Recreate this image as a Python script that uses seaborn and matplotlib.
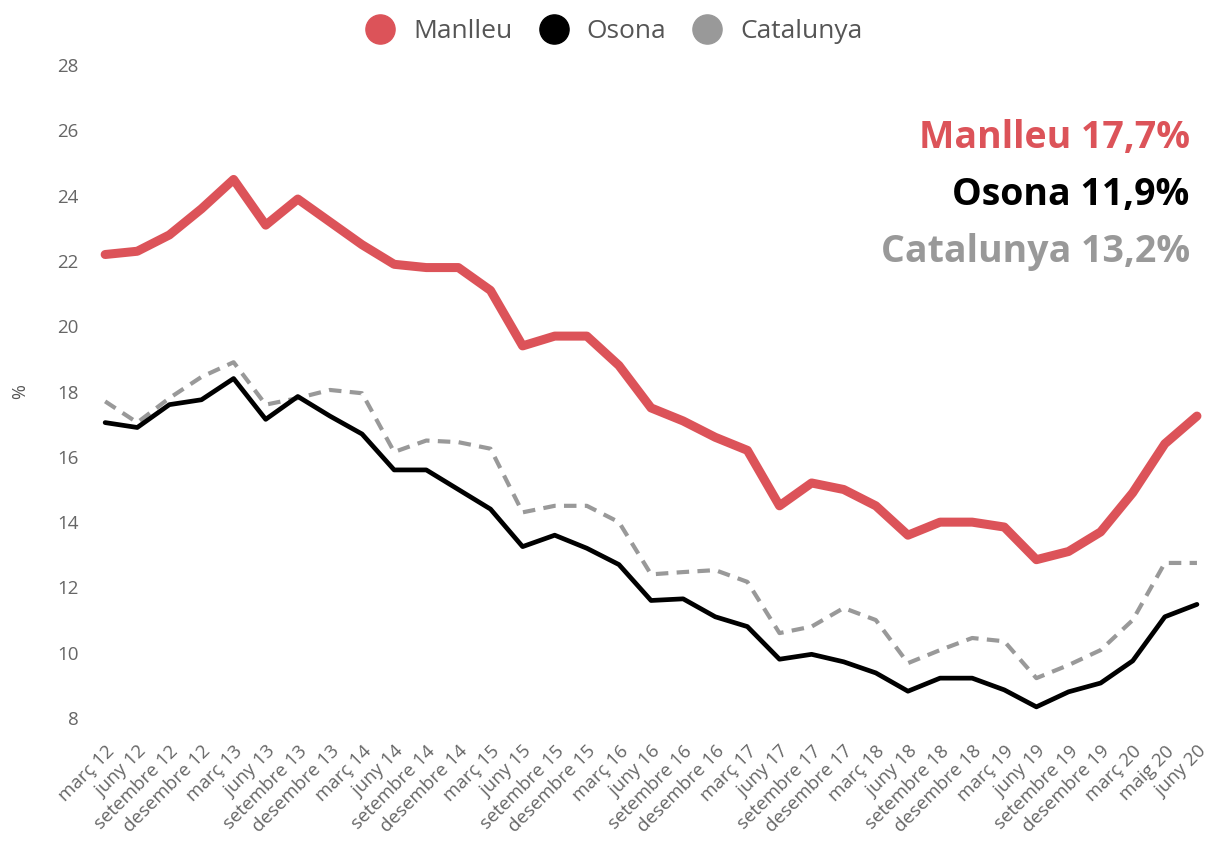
import matplotlib
matplotlib.use('Agg')
import matplotlib.pyplot as plt
from matplotlib.lines import Line2D
import seaborn as sns

periods = ['març 12', 'juny 12', 'setembre 12', 'desembre 12',
           'març 13', 'juny 13', 'setembre 13', 'desembre 13',
           'març 14', 'juny 14', 'setembre 14', 'desembre 14',
           'març 15', 'juny 15', 'setembre 15', 'desembre 15',
           'març 16', 'juny 16', 'setembre 16', 'desembre 16',
           'març 17', 'juny 17', 'setembre 17', 'desembre 17',
           'març 18', 'juny 18', 'setembre 18', 'desembre 18',
           'març 19', 'juny 19', 'setembre 19', 'desembre 19',
           'març 20', 'maig 20', 'juny 20']

manlleu = [22.2, 22.3, 22.8, 23.6, 24.5, 23.1, 23.9, 23.2, 22.5, 21.9,
           21.8, 21.8, 21.1, 19.4, 19.7, 19.7, 18.8, 17.5, 17.1, 16.6,
           16.2, 14.5, 15.2, 15.0, 14.5, 13.6, 14.0, 14.0, 13.85, 12.85,
           13.1, 13.7, 14.9, 16.4, 17.25]
osona = [17.05, 16.9, 17.6, 17.75, 18.4, 17.15, 17.85, 17.25, 16.7, 15.6,
         15.6, 15.0, 14.4, 13.25, 13.6, 13.2, 12.7, 11.6, 11.65, 11.1,
         10.8, 9.8, 9.95, 9.72, 9.38, 8.82, 9.22, 9.22, 8.86, 8.34,
         8.8, 9.07, 9.75, 11.1, 11.48]
catalunya = [17.7, 17.05, 17.8, 18.45, 18.9, 17.6, 17.8, 18.05, 17.95, 16.15,
             16.5, 16.45, 16.25, 14.3, 14.5, 14.5, 14.0, 12.4, 12.47, 12.53,
             12.17, 10.6, 10.8, 11.37, 11.0, 9.68, 10.08, 10.45, 10.35, 9.22,
             9.62, 10.08, 11.0, 12.75, 12.75]

series = ['Manlleu', 'Osona', 'Catalunya']
last_labels = ['Manlleu 17,7%', 'Osona 11,9%', 'Catalunya 13,2%']
colors = {'Manlleu': '#DC5359', 'Osona': '#000000', 'Catalunya': '#999999'}

sns.set_style('white')
plt.rcParams['font.family'] = ['Open Sans', 'DejaVu Sans']

fig = plt.figure(figsize=(12.09, 8.55), dpi=100)
ax = fig.add_axes([0.079, 0.145, 0.919, 0.794])

idx = list(range(len(periods)))
sns.lineplot(x=idx, y=manlleu, ax=ax, color=colors['Manlleu'], linewidth=6.5)
sns.lineplot(x=idx, y=catalunya, ax=ax, color=colors['Catalunya'], linewidth=3)
ax.lines[-1].set_dashes([3, 2])
sns.lineplot(x=idx, y=osona, ax=ax, color=colors['Osona'], linewidth=3.4)

ax.set_xlim(-0.3, 34.3)
ax.set_ylim(7.6, 28.4)
ax.set_yticks(range(8, 29, 2))
ax.set_xticks(idx)
ax.set_xticklabels(periods, rotation=45, ha='right', rotation_mode='anchor')
ax.tick_params(axis='both', length=0, labelsize=13.5, labelcolor='#666666')
ax.tick_params(axis='y', pad=12)
ax.tick_params(axis='x', pad=8)
ax.set_ylabel('%', color='#555555', fontsize=13, labelpad=20)
sns.despine(ax=ax, left=True, bottom=True)

# last-value annotations
for name, txt, y in zip(series, last_labels, [0.839, 0.772, 0.705]):
    fig.text(0.984, y, txt, ha='right', va='center', fontsize=27,
             fontweight='bold', color=colors[name])

handles = [Line2D([], [], marker='o', linestyle='none', markersize=21,
                  markerfacecolor=colors[n], markeredgecolor=colors[n])
           for n in series]
fig.legend(handles, series, loc='center', bbox_to_anchor=(0.503, 0.963),
           ncol=3, frameon=False, fontsize=19, handletextpad=0.25,
           columnspacing=0.55, labelcolor='#555555')

fig.savefig('out.png', dpi=100)
